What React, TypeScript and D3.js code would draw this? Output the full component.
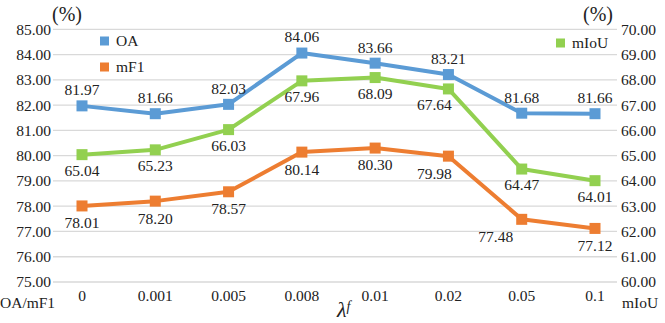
import React, { useEffect, useRef } from 'react';
import * as d3 from 'd3';

const categories = ['0', '0.001', '0.005', '0.008', '0.01', '0.02', '0.05', '0.1'];
const oa = [81.97, 81.66, 82.03, 84.06, 83.66, 83.21, 81.68, 81.66];
const mf1 = [78.01, 78.2, 78.57, 80.14, 80.3, 79.98, 77.48, 77.12];
const miou = [65.04, 65.23, 66.03, 67.96, 68.09, 67.64, 64.47, 64.01];
const leftTicks = [75, 76, 77, 78, 79, 80, 81, 82, 83, 84, 85];
const rightTicks = [60, 61, 62, 63, 64, 65, 66, 67, 68, 69, 70];

// label offsets (dx) per point, tweaked so the numbers don't sit on the lines
const oaDx = [0, 0, 0, 0, 0, 0, 0, 0];
const mf1Dx = [0, 0, 0, 0, 0, -14, -26, 0];
const miouDx = [0, 0, 0, 0, 0, -14, 0, 0];

const App = () => {
  const svgRef = useRef<SVGSVGElement>(null);
  const width = 665, height = 323;
  const font = "'Liberation Serif', 'Times New Roman', serif";
  const fs = 15.5;

  useEffect(() => {
    const svg = d3.select(svgRef.current);
    svg.selectAll('*').remove();

    const gridLeft = 53, gridRight = 617;
    const x = d3.scalePoint().domain(categories).range([82, 595]);
    const yL = d3.scaleLinear().domain([75, 85]).range([282, 29.3]);
    const yR = d3.scaleLinear().domain([60, 70]).range([282, 29.3]);

    // gridlines
    svg.append('g')
      .selectAll('line')
      .data(leftTicks)
      .join('line')
      .attr('x1', gridLeft).attr('x2', gridRight)
      .attr('y1', d => yL(d)).attr('y2', d => yL(d))
      .attr('stroke', '#d9d9d9').attr('stroke-width', 1.3);

    // left axis labels
    svg.append('g')
      .selectAll('text')
      .data(leftTicks)
      .join('text')
      .attr('x', 51).attr('y', d => yL(d))
      .attr('dy', '0.35em')
      .attr('text-anchor', 'end')
      .attr('font-family', font).attr('font-size', fs).attr('fill', '#222')
      .text(d => d.toFixed(2));

    // right axis labels
    svg.append('g')
      .selectAll('text')
      .data(rightTicks)
      .join('text')
      .attr('x', 621).attr('y', d => yR(d))
      .attr('dy', '0.35em')
      .attr('text-anchor', 'start')
      .attr('font-family', font).attr('font-size', fs).attr('fill', '#222')
      .text(d => d.toFixed(2));

    // category labels
    svg.append('g')
      .selectAll('text')
      .data(categories)
      .join('text')
      .attr('x', d => x(d)!).attr('y', 296)
      .attr('dy', '0.35em')
      .attr('text-anchor', 'middle')
      .attr('font-family', font).attr('font-size', fs).attr('fill', '#222')
      .text(d => d);

    const txt = (tx: number, ty: number, s: string, size: number, anchor = 'start') =>
      svg.append('text').attr('x', tx).attr('y', ty).attr('dy', '0.35em')
        .attr('text-anchor', anchor).attr('font-family', font)
        .attr('font-size', size).attr('fill', '#222').text(s);

    txt(0, 303, 'OA/mF1', fs);
    txt(622, 303, 'mIoU', fs);
    txt(52, 14, '(%)', 20);
    txt(583, 14, '(%)', 20);

    const lam = svg.append('text').attr('x', 337).attr('y', 317)
      .attr('font-family', font).attr('font-size', 22).attr('font-style', 'italic').attr('fill', '#222');
    lam.append('tspan').text('λ');
    lam.append('tspan').attr('font-size', 14).attr('dy', -6).attr('dx', 0).text('f');

    const series = [
      { name: 'OA', values: oa, y: yL, color: '#5b9bd5', dx: oaDx, dy: -16 },
      { name: 'mF1', values: mf1, y: yL, color: '#ed7d31', dx: mf1Dx, dy: 17 },
      { name: 'mIoU', values: miou, y: yR, color: '#92d050', dx: miouDx, dy: 16 },
    ];

    series.forEach(s => {
      const line = d3.line<number>()
        .x((_, i) => x(categories[i])!)
        .y(d => s.y(d));
      svg.append('path')
        .datum(s.values)
        .attr('d', line)
        .attr('fill', 'none')
        .attr('stroke', s.color)
        .attr('stroke-width', 4)
        .attr('stroke-linejoin', 'round');
      svg.append('g')
        .selectAll('rect')
        .data(s.values)
        .join('rect')
        .attr('x', (_, i) => x(categories[i])! - 5.5)
        .attr('y', d => s.y(d) - 5.5)
        .attr('width', 11).attr('height', 11)
        .attr('fill', s.color);
      svg.append('g')
        .selectAll('text')
        .data(s.values)
        .join('text')
        .attr('x', (_, i) => x(categories[i])! + s.dx[i])
        .attr('y', d => s.y(d) + s.dy)
        .attr('dy', '0.35em')
        .attr('text-anchor', 'middle')
        .attr('font-family', font).attr('font-size', fs).attr('fill', '#222')
        .text(d => d.toFixed(2));
    });

    // legend
    const legend = [
      { name: 'OA', color: '#5b9bd5', lx: 100, ly: 41 },
      { name: 'mF1', color: '#ed7d31', lx: 100, ly: 67 },
      { name: 'mIoU', color: '#92d050', lx: 556, ly: 43 },
    ];
    legend.forEach(l => {
      svg.append('rect').attr('x', l.lx).attr('y', l.ly - 4.5)
        .attr('width', 9).attr('height', 9).attr('fill', l.color);
      txt(l.lx + 16, l.ly, l.name, fs);
    });
  }, []);

  return (
    <svg ref={svgRef} width={width} height={height}
      style={{ position: 'absolute', left: 0, top: 0, background: '#fff' }} />
  );
};

export default App;
